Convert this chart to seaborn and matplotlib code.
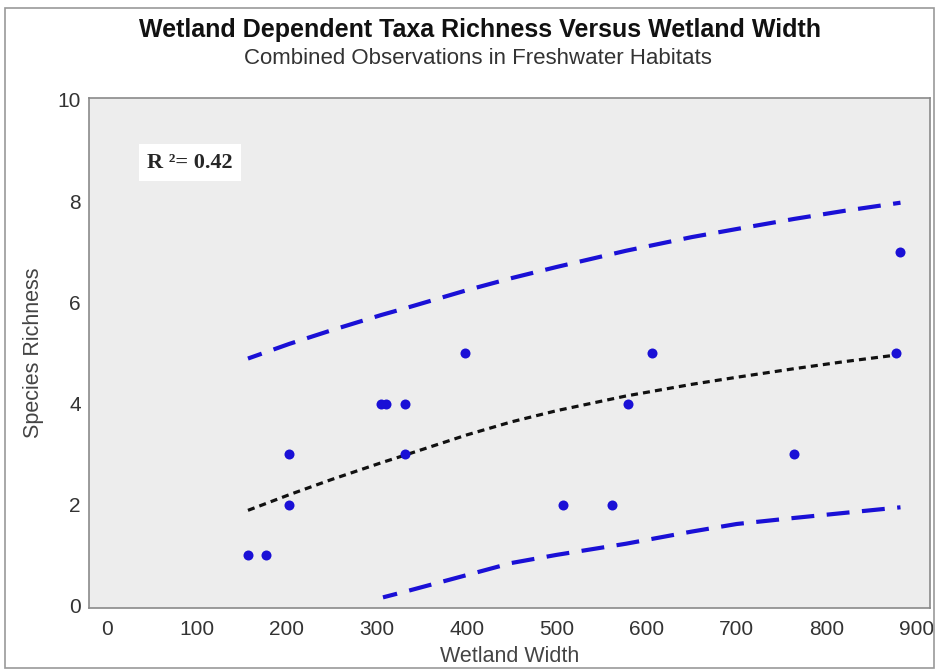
import numpy as np
import pandas as pd
import seaborn as sns
import matplotlib.pyplot as plt
from matplotlib.patches import Rectangle

# observed points
width = [157, 177, 203, 203, 305, 310, 331, 332, 398, 507, 561, 579, 606, 764, 877, 882]
richness = [1, 1, 3, 2, 4, 4, 4, 3, 5, 2, 2, 4, 5, 3, 5, 7]

# fitted curve and prediction band
fit_x = [157, 203, 250, 305, 333, 400, 450, 500, 577, 650, 700, 764, 820, 882]
fit_y = [1.89, 2.20, 2.50, 2.83, 2.99, 3.38, 3.64, 3.86, 4.15, 4.38, 4.52, 4.69, 4.83, 4.97]
upper_y = [4.89, 5.18, 5.45, 5.75, 5.89, 6.24, 6.48, 6.70, 7.02, 7.29, 7.45, 7.65, 7.81, 7.97]
lower_x = [307, 333, 400, 450, 500, 577, 650, 700, 764, 820, 882]
lower_y = [0.17, 0.29, 0.61, 0.85, 1.01, 1.23, 1.47, 1.62, 1.74, 1.84, 1.95]

x_ticks = [0, 100, 200, 300, 400, 500, 600, 700, 800, 900]
y_ticks = [0, 2, 4, 6, 8, 10]

sns.set_style("white")
plt.rcParams["font.family"] = ["Liberation Sans", "DejaVu Sans"]

fig = plt.figure(figsize=(9.36, 6.71), dpi=100)
ax = fig.add_axes([0.0954, 0.0939, 0.8982, 0.7601])
ax.set_facecolor("#ededed")

blue = "#1a10d6"

sns.lineplot(x=fit_x, y=upper_y, ax=ax, color=blue, lw=3, estimator=None)
ax.lines[-1].set_linestyle((2, (5.5, 3)))
sns.lineplot(x=lower_x, y=lower_y, ax=ax, color=blue, lw=3, estimator=None)
ax.lines[-1].set_linestyle((2, (5.5, 3)))
sns.lineplot(x=fit_x, y=fit_y, ax=ax, color="#111111", lw=2.3, estimator=None)
ax.lines[-1].set_dashes((2.2, 1.6))

df = pd.DataFrame({"Wetland Width": width, "Species Richness": richness})
sns.scatterplot(data=df, x="Wetland Width", y="Species Richness", ax=ax,
                color=blue, s=52, edgecolor=blue, linewidth=0, zorder=5)

ax.set_xlim(-19.3, 914.8)
ax.set_ylim(-0.04, 10.04)
ax.set_xticks(x_ticks)
ax.set_yticks(y_ticks)
ax.tick_params(axis="both", direction="out", length=4, width=1, color="#777777",
               labelsize=15, labelcolor="#333333", pad=2)
ax.tick_params(axis="x", pad=5)
for s in ax.spines.values():
    s.set_visible(True)
    s.set_color("#8a8a8a")
    s.set_linewidth(1.2)

ax.set_xlabel("Wetland Width", fontsize=15.5, color="#444444", labelpad=5)
ax.set_ylabel("Species Richness", fontsize=15.5, color="#444444", labelpad=10)

ax.text(45, 8.76, "R ²= 0.42", fontsize=16, fontweight="bold",
        family=["Liberation Serif", "DejaVu Serif"], va="center", ha="left",
        bbox=dict(facecolor="white", edgecolor="none", pad=6))

fig.text(0.513, 0.955, "Wetland Dependent Taxa Richness Versus Wetland Width",
         ha="center", va="center", fontsize=18, fontweight="bold", color="#111111")
fig.text(0.511, 0.913, "Combined Observations in Freshwater Habitats",
         ha="center", va="center", fontsize=16, color="#333333")

fig.patches.append(Rectangle((5 / 936, 3 / 671), 929 / 936, 660 / 671,
                             transform=fig.transFigure, fill=False,
                             edgecolor="#999999", lw=1.2))

fig.savefig("out.png", dpi=100)
